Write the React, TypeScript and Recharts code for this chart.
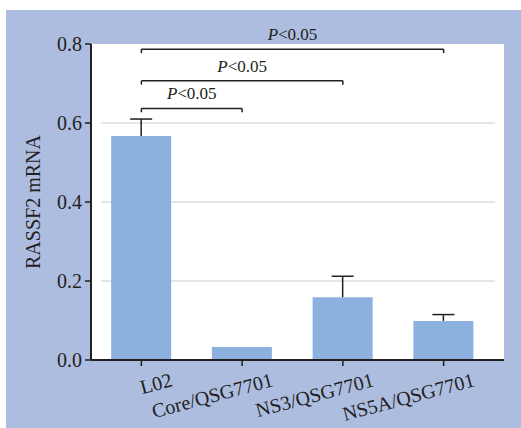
import {
  Bar,
  BarChart,
  CartesianGrid,
  Label,
  ReferenceLine,
  XAxis,
  YAxis,
} from "recharts";

const categories = ["L02", "Core/QSG7701", "NS3/QSG7701", "NS5A/QSG7701"];
const means = [0.567, 0.033, 0.159, 0.099];
const errors = [0.043, 0, 0.053, 0.016];
const yTicks = [0, 0.2, 0.4, 0.6, 0.8];
const gridValues = [0.2, 0.4, 0.6];

// significance brackets
const bracketFrom = ["L02", "L02", "L02"];
const bracketTo = ["Core/QSG7701", "NS3/QSG7701", "NS5A/QSG7701"];
const bracketLevels = [0.637, 0.707, 0.787];
const bracketLeg = 0.01;
const pText = "<0.05";

const FONT = "'Liberation Serif', 'Times New Roman', serif";
const INK = "#231f20";

const data = categories.map((name, i) => ({
  name,
  value: means[i],
  err: errors[i],
}));

function ErrorWhisker(props: any) {
  const { x, y, width, height } = props;
  if (!height || height <= 0) return <g />;
  const cx = x + width / 2;
  return (
    <g>
      <line x1={cx} y1={y} x2={cx} y2={y + height} stroke={INK} strokeWidth={1.5} />
      <line x1={cx - 11} y1={y} x2={cx + 11} y2={y} stroke={INK} strokeWidth={1.5} />
    </g>
  );
}

function XTick(props: any) {
  const { x, y, payload } = props;
  const tx = x + 32;
  const ty = y + 18;
  return (
    <text
      x={tx}
      y={ty}
      textAnchor="end"
      transform={`rotate(-15, ${tx}, ${ty})`}
      fontFamily={FONT}
      fontSize={20}
      fill={INK}
    >
      {payload.value}
    </text>
  );
}

function PLabel(props: any) {
  const vb = props.viewBox || {};
  const x1 = vb.x1 ?? vb.x;
  const x2 = vb.x2 ?? vb.x + vb.width;
  const y = vb.y1 ?? vb.y;
  return (
    <text
      x={(x1 + x2) / 2}
      y={y - 9}
      textAnchor="middle"
      fontFamily={FONT}
      fontSize={17}
      fill={INK}
    >
      <tspan fontStyle="italic">P</tspan>
      {pText}
    </text>
  );
}

function GridLine(props: any) {
  const { x1, x2, y1 } = props;
  return <line key={props.key} x1={x1 + 10} x2={x2 - 9} y1={y1} y2={y1} stroke="#dcdcdc" strokeWidth={1.5} />;
}

export default function App() {
  return (
    <div style={{ position: "absolute", left: 0, top: 0, width: 521, height: 428, background: "#fff" }}>
      <div style={{ position: "absolute", left: 6, top: 10, width: 515, height: 418, background: "#adbde0" }}>
        <BarChart
          width={515}
          height={418}
          data={data}
          margin={{ top: 34, right: 17, bottom: 0, left: 0 }}
          barCategoryGap="20%"
        >
          <CartesianGrid
            fill="#ffffff"
            vertical={false}
            horizontal={GridLine}
            horizontalValues={gridValues}
          />
          <XAxis
            dataKey="name"
            interval={0}
            height={68}
            padding={{ left: 0, right: 10 }}
            tickSize={6}
            tick={<XTick />}
            axisLine={{ stroke: INK, strokeWidth: 2 }}
            tickLine={{ stroke: INK, strokeWidth: 1.5 }}
          />
          <YAxis
            width={85}
            domain={[0, 0.8]}
            ticks={yTicks}
            tickFormatter={(v: number) => v.toFixed(1)}
            tickSize={6}
            tickMargin={3}
            tick={{ fill: INK, fontSize: 20, fontFamily: FONT }}
            axisLine={{ stroke: INK, strokeWidth: 2 }}
            tickLine={{ stroke: INK, strokeWidth: 1.5 }}
          >
            <Label
              content={({ viewBox }: any) => (
                <text
                  x={34}
                  y={viewBox.y + viewBox.height / 2}
                  textAnchor="middle"
                  transform={`rotate(-90, 34, ${viewBox.y + viewBox.height / 2})`}
                  fontFamily={FONT}
                  fontSize={20}
                  fill={INK}
                >
                  RASSF2 mRNA
                </text>
              )}
            />
          </YAxis>
          <Bar dataKey="value" stackId="a" fill="#8db1df" isAnimationActive={false} />
          <Bar dataKey="err" stackId="a" shape={<ErrorWhisker />} isAnimationActive={false} />
          {bracketLevels.map((lvl, i) => (
            <ReferenceLine
              key={`h${i}`}
              segment={[
                { x: bracketFrom[i], y: lvl },
                { x: bracketTo[i], y: lvl },
              ]}
              stroke={INK}
              strokeWidth={1.5}
              label={<PLabel />}
            />
          ))}
          {bracketLevels.map((lvl, i) => (
            <ReferenceLine
              key={`l${i}`}
              segment={[
                { x: bracketFrom[i], y: lvl },
                { x: bracketFrom[i], y: lvl - bracketLeg },
              ]}
              stroke={INK}
              strokeWidth={1.5}
            />
          ))}
          {bracketLevels.map((lvl, i) => (
            <ReferenceLine
              key={`r${i}`}
              segment={[
                { x: bracketTo[i], y: lvl },
                { x: bracketTo[i], y: lvl - bracketLeg },
              ]}
              stroke={INK}
              strokeWidth={1.5}
            />
          ))}
        </BarChart>
      </div>
    </div>
  );
}
